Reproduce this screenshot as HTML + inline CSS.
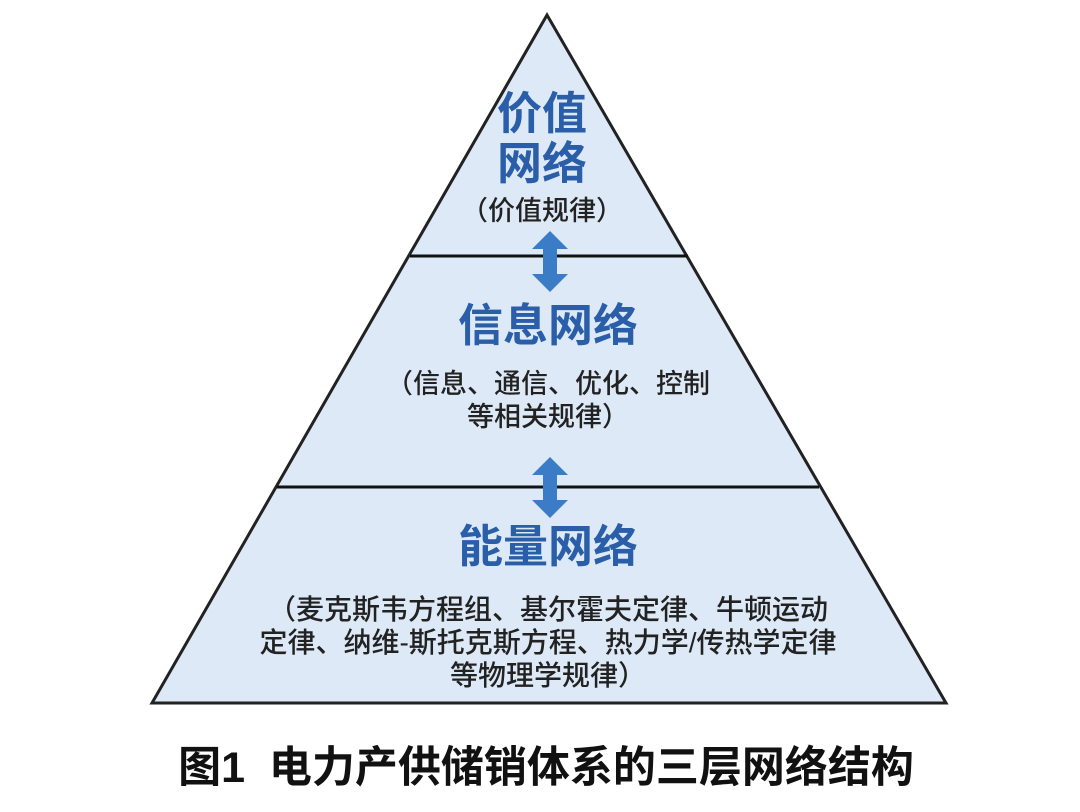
<!DOCTYPE html><html><head><meta charset="utf-8"><style>
body{margin:0;background:#fff;width:1080px;height:812px;overflow:hidden;font-family:"Liberation Sans","Noto Sans CJK SC",sans-serif}
.t{position:absolute;width:1080px;left:0;text-align:center;white-space:nowrap}
.h{color:#2a5ea9;font-weight:bold;font-size:45px;line-height:50px}
.s{color:#222;font-size:27px;line-height:33px;font-weight:500}
</style></head><body>
<svg width="1080" height="812" style="position:absolute;left:0;top:0">
<polygon points="547,15 152,703 946,703" fill="#dde9f6" stroke="#222" stroke-width="3"/>
<line x1="410" y1="256" x2="688" y2="256" stroke="#111" stroke-width="3"/>
<line x1="277" y1="487" x2="819" y2="487" stroke="#111" stroke-width="3"/>
<g fill="#3b7cc6">
<polygon points="550,231 568,249 557,249 557,274 568,274 550,292 532,274 543,274 543,249 532,249"/>
<polygon points="550,457 568,475 557,475 557,500 568,500 550,518 532,500 543,500 543,475 532,475"/>
</g>
</svg>
<div class="t h" style="top:89px;left:2px">价值</div>
<div class="t h" style="top:139px;left:2px">网络</div>
<div class="t s" style="top:195px;left:2px">（价值规律）</div>
<div class="t h" style="top:301px;left:8px">信息网络</div>
<div class="t s" style="top:368px;left:8px">（信息、通信、优化、控制<br>等相关规律）</div>
<div class="t h" style="top:522px;left:8px">能量网络</div>
<div class="t s" style="top:593px;font-size:28px;left:8px">（麦克斯韦方程组、基尔霍夫定律、牛顿运动<br>定律、纳维-斯托克斯方程、热力学/传热学定律<br>等物理学规律）</div>
<div class="t" style="top:733px;font-size:43px;font-weight:bold;color:#111;left:6px">图1&nbsp; 电力产供储销体系的三层网络结构</div>
</body></html>
